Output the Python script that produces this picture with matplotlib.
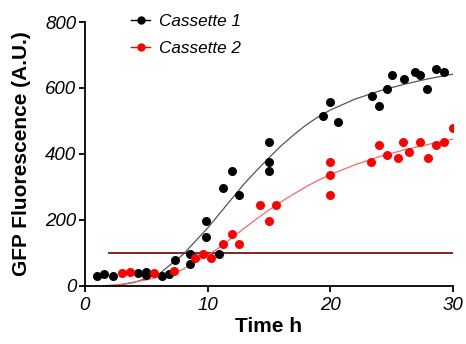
import numpy as np
import matplotlib
matplotlib.use("Agg")
import matplotlib.pyplot as plt

plt.rcParams['font.family'] = ['Liberation Sans', 'DejaVu Sans']

# measured points
c1_t = [1.0, 1.6, 2.3, 4.3, 5.0, 5.0, 6.3, 6.9, 7.35, 8.6, 8.6, 9.9, 9.9, 10.95,
        11.3, 12.0, 12.6, 15.0, 15.0, 15.0, 19.4, 20.0, 20.6, 23.4, 24.0, 24.6,
        25.0, 26.0, 26.9, 27.3, 27.9, 28.6, 29.3]
c1_y = [30, 36, 31, 38, 43, 33, 31, 36, 77, 97, 67, 197, 148, 97,
        297, 348, 275, 437, 377, 348, 515, 556, 496, 576, 546, 596,
        638, 627, 648, 638, 597, 658, 648]

c2_t = [3.0, 3.7, 5.6, 7.3, 9.0, 9.6, 10.3, 11.3, 12.0, 12.6, 14.3, 15.0, 15.6,
        20.0, 20.0, 20.0, 23.3, 24.0, 24.6, 25.5, 25.9, 26.4, 27.3, 28.0, 28.6,
        29.3, 30.0]
c2_y = [38, 41, 38, 45, 85, 97, 85, 126, 157, 126, 245, 196, 245,
        377, 336, 276, 377, 427, 397, 389, 435, 407, 435, 387, 427,
        435, 478]

# fitted curves
fit1_t = [2.4, 4, 6, 8, 9, 10, 11, 12, 13, 14, 15, 16, 17, 18, 19, 20, 22, 24, 26, 28, 30]
fit1_y = [0, 10, 35, 95, 135, 175, 220, 265, 310, 350, 388, 425, 457, 487, 512, 533, 566, 591, 611, 628, 642]
fit2_t = [1.5, 3, 5, 7, 8, 9, 10, 11, 12, 13, 14, 15, 16, 17, 18, 19, 20, 22, 24, 26, 28, 30]
fit2_y = [0, 5, 18, 35, 50, 72, 92, 117, 146, 175, 203, 230, 255, 278, 300, 320, 337, 367, 392, 412, 429, 445]

# threshold line
thr_t = [2, 30]
thr_y = [100, 100]

fig = plt.figure(figsize=(4.66, 3.44), dpi=100)
ax = fig.add_axes([0.182, 0.169, 0.79, 0.767])

ax.plot(fit1_t, fit1_y, color='#555555', lw=0.9, zorder=2)
ax.plot(fit2_t, fit2_y, color='#ff6666', lw=0.9, zorder=2)
ax.plot(thr_t, thr_y, color='#7a1212', lw=1.3, zorder=1)

ax.plot(c1_t, c1_y, 'o', color='black', ms=6.5, mew=0, zorder=3)
ax.plot(c2_t, c2_y, 'o', color='red', ms=6.5, mew=0, zorder=3)

# legend handles (dot with short line)
h1, = ax.plot([], [], '-o', color='black', ms=6, mew=0, lw=1)
h2, = ax.plot([], [], '-o', color='red', ms=6, mew=0, lw=1)
leg = ax.legend([h1, h2], ['Cassette 1', 'Cassette 2'], loc='upper left',
                bbox_to_anchor=(0.085, 1.09), frameon=False, handlelength=1.1,
                handletextpad=0.5, labelspacing=0.75, prop={'size': 12.3, 'style': 'italic'})

ax.set_xlim(0, 30)
ax.set_ylim(0, 800)
ax.set_xticks([0, 10, 20, 30])
ax.set_yticks([0, 200, 400, 600, 800])
for s in ['top', 'right']:
    ax.spines[s].set_visible(False)
for s in ['left', 'bottom']:
    ax.spines[s].set_linewidth(1.3)
ax.tick_params(width=1.3, length=4, labelsize=13.5, pad=2)
ax.tick_params(axis='x', pad=4)
for lab in ax.get_xticklabels() + ax.get_yticklabels():
    lab.set_fontstyle('italic')

ax.set_xlabel('Time h', fontsize=15, fontweight='bold', labelpad=2)
ax.set_ylabel('GFP Fluorescence (A.U.)', fontsize=15, fontweight='bold', labelpad=10)

fig.savefig('out.png', dpi=100)
